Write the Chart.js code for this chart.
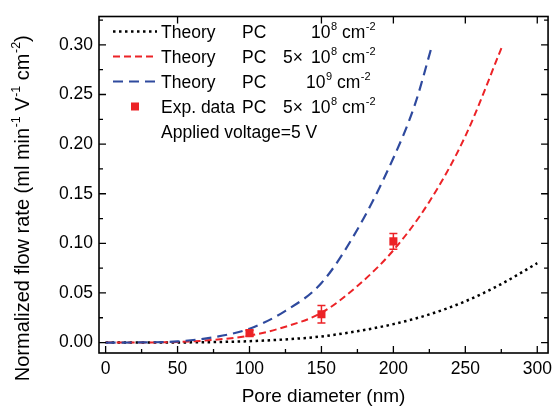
<!DOCTYPE html>
<html>
<head>
<meta charset="utf-8">
<script src="https://cdn.jsdelivr.net/npm/chart.js@4.4.1/dist/chart.umd.min.js"></script>
<style>
  html, body { margin: 0; padding: 0; background: #fff; }
</style>
</head>
<body>
<canvas id="chart" width="558" height="408"></canvas>
<script>
// Normalized flow rate vs pore diameter: theory curves + measured points

const FONT = '"Liberation Sans", Arial, sans-serif';

// axis ticks
const xMajor = [0, 50, 100, 150, 200, 250, 300];
const xMinor = [25, 75, 125, 175, 225, 275];
const xTopTicks = [50, 150, 200, 250, 300];
const yMajor = [0, 0.05, 0.10, 0.15, 0.20, 0.25, 0.30];
const yMinor = [0.025, 0.075, 0.125, 0.175, 0.225, 0.275, 0.325];

// theory, pore density 1e8 cm^-2 (black dotted)
const poreBlack = [0, 25, 50, 75, 100, 125, 150, 175, 200, 225, 250, 275, 300];
const flowBlack = [0, 0.00002, 0.0001, 0.0005, 0.0014, 0.0032, 0.0062, 0.0115, 0.0186, 0.0284, 0.0416, 0.059, 0.080];

// theory, 5e8 cm^-2 (red dashed)
const poreRed = [0, 25, 50, 75, 100, 125, 150, 175, 200, 225, 250, 276];
const flowRed = [0, 0.0001, 0.0006, 0.0027, 0.007, 0.016, 0.030, 0.057, 0.093, 0.142, 0.208, 0.30];

// theory, 1e9 cm^-2 (blue dashed)
const poreBlue = [0, 25, 50, 75, 100, 125, 150, 175, 200, 215, 227];
const flowBlue = [0, 0.0002, 0.0012, 0.0054, 0.014, 0.032, 0.060, 0.114, 0.186, 0.240, 0.30];

// experiment, 5e8 cm^-2
const expPore = [100, 150, 200];
const expFlow = [0.0095, 0.0286, 0.102];
const expErr = [0.003, 0.0088, 0.008];

const RED = '#ec2327';
const BLUE = '#2f4a9e';

const toPts = (xs, ys) => xs.map((v, i) => ({ x: v, y: ys[i] }));

// frame, inward ticks and error bars
const frameTicks = {
    id: 'frameTicks',
    afterDatasetsDraw(chart) {
        const { ctx, chartArea: a, scales: { x, y } } = chart;
        ctx.save();

        // error bars
        ctx.strokeStyle = RED;
        ctx.lineWidth = 1.5;
        ctx.beginPath();
        expPore.forEach((p, i) => {
            const px = x.getPixelForValue(p);
            const top = y.getPixelForValue(expFlow[i] + expErr[i]);
            const bot = y.getPixelForValue(expFlow[i] - expErr[i]);
            ctx.moveTo(px, top); ctx.lineTo(px, bot);
            ctx.moveTo(px - 4, top); ctx.lineTo(px + 4, top);
            ctx.moveTo(px - 4, bot); ctx.lineTo(px + 4, bot);
        });
        ctx.stroke();

        ctx.strokeStyle = '#000';
        ctx.lineWidth = 1.6;
        ctx.strokeRect(a.left, a.top, a.right - a.left, a.bottom - a.top);

        ctx.lineWidth = 1.3;
        ctx.beginPath();
        const tickX = (vals, len, edge, dir) => vals.forEach(v => {
            const px = x.getPixelForValue(v);
            ctx.moveTo(px, edge); ctx.lineTo(px, edge + dir * len);
        });
        const tickY = (vals, len, edge, dir) => vals.forEach(v => {
            const py = y.getPixelForValue(v);
            ctx.moveTo(edge, py); ctx.lineTo(edge + dir * len, py);
        });
        tickX(xMajor, 7, a.bottom, -1);
        tickX(xMinor, 4, a.bottom, -1);
        tickX(xTopTicks, 7, a.top, 1);
        tickY(yMajor, 7, a.left, 1);
        tickY(yMinor, 4, a.left, 1);
        tickY(yMajor, 7, a.right, -1);
        tickY(yMinor, 4, a.right, -1);
        ctx.stroke();
        ctx.restore();
    }
};

// draw text pieces with superscripts, left to right
function drawParts(ctx, parts, x, y, size, supSize, lift) {
    parts.forEach(p => {
        if (p.at !== undefined) x = p.at;
        ctx.font = (p.sup ? supSize : size) + 'px ' + FONT;
        ctx.fillText(p.t, x, p.sup ? y - lift : y);
        x += ctx.measureText(p.t).width + (p.sup ? 0 : 0.5);
    });
}

const legendTitle = {
    id: 'legendTitle',
    afterDraw(chart) {
        const { ctx } = chart;
        ctx.save();
        ctx.fillStyle = '#000';
        ctx.textBaseline = 'alphabetic';
        ctx.textAlign = 'left';

        // y axis title (rotated)
        const yParts = [
            { t: 'Normalized flow rate (ml min' }, { t: '-1', sup: true },
            { t: ' V' }, { t: '-1', sup: true },
            { t: ' cm' }, { t: '-2', sup: true }, { t: ')' }
        ];
        let w = 0;
        yParts.forEach(p => {
            ctx.font = (p.sup ? 12.5 : 20) + 'px ' + FONT;
            w += ctx.measureText(p.t).width + (p.sup ? 0 : 0.5);
        });
        ctx.translate(29, 208);
        ctx.rotate(-Math.PI / 2);
        drawParts(ctx, yParts, -w / 2, 0, 20, 12.5, 9);
        ctx.setTransform(1, 0, 0, 1, 0, 0);

        // legend
        const rows = [
            { dash: [2.5, 3.5], color: '#000', width: 2.5, base: 37.5,
              parts: [{ at: 161, t: 'Theory' }, { at: 242, t: 'PC' }, { at: 311, t: '10' }, { t: '8', sup: true },
                      { at: 342, t: 'cm' }, { t: '-2', sup: true }] },
            { dash: [7, 4], color: RED, width: 2, base: 62.5,
              parts: [{ at: 161, t: 'Theory' }, { at: 242, t: 'PC' }, { at: 283, t: '5\u00d7' }, { at: 311, t: '10' },
                      { t: '8', sup: true }, { at: 342, t: 'cm' }, { t: '-2', sup: true }] },
            { dash: [10, 6], color: BLUE, width: 2.2, base: 87.5,
              parts: [{ at: 161, t: 'Theory' }, { at: 242, t: 'PC' }, { at: 306, t: '10' }, { t: '9', sup: true },
                      { at: 337, t: 'cm' }, { t: '-2', sup: true }] },
            { marker: true, base: 112.5,
              parts: [{ at: 161, t: 'Exp. data' }, { at: 242, t: 'PC' }, { at: 283, t: '5\u00d7' }, { at: 311, t: '10' },
                      { t: '8', sup: true }, { at: 342, t: 'cm' }, { t: '-2', sup: true }] },
            { base: 137.5, parts: [{ at: 161, t: 'Applied voltage=5 V' }] }
        ];
        rows.forEach(r => {
            const mid = r.base - 6;
            if (r.dash) {
                ctx.save();
                ctx.strokeStyle = r.color;
                ctx.lineWidth = r.width;
                ctx.setLineDash(r.dash);
                ctx.beginPath();
                ctx.moveTo(113, mid); ctx.lineTo(157, mid);
                ctx.stroke();
                ctx.restore();
            }
            if (r.marker) {
                ctx.fillStyle = RED;
                ctx.fillRect(131, mid - 4, 8, 8);
                ctx.fillStyle = '#000';
            }
            drawParts(ctx, r.parts, 161, r.base, 17.5, 11, 8);
        });
        ctx.restore();
    }
};

const tickFont = { family: FONT, size: 17.5 };

new Chart(document.getElementById('chart'), {
    type: 'line',
    data: {
        datasets: [
            {
                label: 'Exp. data PC 5x10^8',
                data: toPts(expPore, expFlow),
                showLine: false,
                pointStyle: 'rect',
                pointRadius: 5.7,
                backgroundColor: RED,
                borderColor: RED,
                borderWidth: 0
            },
            {
                label: 'Theory PC 10^9',
                data: toPts(poreBlue, flowBlue),
                borderColor: BLUE,
                borderWidth: 2.2,
                borderDash: [10, 6],
                pointRadius: 0,
                fill: false,
                cubicInterpolationMode: 'monotone'
            },
            {
                label: 'Theory PC 5x10^8',
                data: toPts(poreRed, flowRed),
                borderColor: RED,
                borderWidth: 2,
                borderDash: [7, 4],
                pointRadius: 0,
                fill: false,
                cubicInterpolationMode: 'monotone'
            },
            {
                label: 'Theory PC 10^8',
                data: toPts(poreBlack, flowBlack),
                borderColor: '#000',
                borderWidth: 2.5,
                borderDash: [2.5, 3.5],
                pointRadius: 0,
                fill: false,
                cubicInterpolationMode: 'monotone'
            }
        ]
    },
    options: {
        responsive: false,
        animation: false,
        layout: { padding: { left: 0, top: 15, right: 2, bottom: 0 } },
        plugins: { legend: { display: false }, tooltip: { enabled: false } },
        scales: {
            x: {
                type: 'linear',
                min: -4.6,
                max: 307.5,
                grid: { display: false, drawTicks: false },
                border: { display: false },
                ticks: { font: tickFont, color: '#000', padding: 6, maxRotation: 0, autoSkip: false,
                         callback: v => String(v) },
                afterBuildTicks: s => { s.ticks = xMajor.map(v => ({ value: v })); },
                afterFit: s => { s.height = 55; },
                title: { display: true, text: 'Pore diameter (nm)', color: '#000',
                         font: { family: FONT, size: 19 }, padding: { top: 0, bottom: 0 } }
            },
            y: {
                type: 'linear',
                min: -0.0105,
                max: 0.3286,
                grid: { display: false, drawTicks: false },
                border: { display: false },
                ticks: { font: tickFont, color: '#000', padding: 6, autoSkip: false,
                         callback: v => v.toFixed(2) },
                afterBuildTicks: s => { s.ticks = yMajor.map(v => ({ value: v })); },
                afterFit: s => { s.width = 99; }
            }
        }
    },
    plugins: [frameTicks, legendTitle]
});
</script>
</body>
</html>
